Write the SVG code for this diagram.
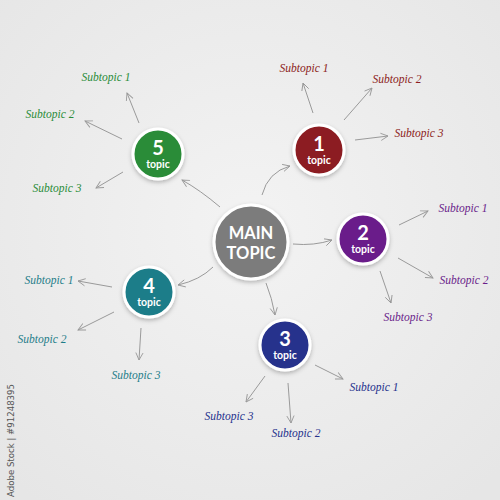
<svg xmlns="http://www.w3.org/2000/svg" width="500" height="500" viewBox="0 0 500 500">
<defs>
<radialGradient id="bg" cx="50%" cy="45%" r="70%">
<stop offset="0" stop-color="#f3f3f3"/>
<stop offset="1" stop-color="#e6e6e6"/>
</radialGradient>
<filter id="sh" x="-30%" y="-30%" width="160%" height="160%">
<feDropShadow dx="0" dy="2" stdDeviation="2" flood-color="#000" flood-opacity="0.25"/>
</filter>
<marker id="arr" viewBox="0 0 10 10" refX="9" refY="5" markerWidth="9" markerHeight="9" markerUnits="userSpaceOnUse" orient="auto">
<path d="M1,1 L9,5 L1,9" fill="none" stroke="#9a9a9a" stroke-width="1"/>
</marker>
<style>
.c{stroke:#fff;stroke-width:3;filter:url(#sh)}
.num{font-family:Lato,"Open Sans",sans-serif;font-weight:bold;font-size:20px;fill:#fff;text-anchor:middle}
.tp{font-family:Lato,"Open Sans",sans-serif;font-weight:bold;font-size:10.5px;fill:#fff;text-anchor:middle}
.mt{font-family:Lato,"Open Sans",sans-serif;font-weight:bold;font-size:16.5px;fill:#fff;text-anchor:middle}
.st{font-family:"Liberation Serif",serif;font-style:italic;font-size:11.5px;text-anchor:middle}
.ln{fill:none;stroke:#9a9a9a;stroke-width:1;marker-end:url(#arr)}
</style>
</defs>
<rect width="500" height="500" fill="url(#bg)"/>
<text x="14" y="497" transform="rotate(-90 14 497)" font-family="'DejaVu Sans',sans-serif" font-size="8.6" fill="#555">Adobe Stock | #91248395</text>
<g id="connectors">
<path class="ln" d="M262,195 Q268,172 290,166"/>
<path class="ln" d="M220,207 Q200,190 182,180"/>
<path class="ln" d="M293,244 Q314,246 332,240"/>
<path class="ln" d="M213,267 Q200,280 178,285"/>
<path class="ln" d="M266,283 Q272,298 275,315"/>
<path class="ln" d="M139,123 L127,93"/>
<path class="ln" d="M122,139 L85,121"/>
<path class="ln" d="M123,172 L96,188"/>
<path class="ln" d="M313,113 L303,83"/>
<path class="ln" d="M344,120 L372,88"/>
<path class="ln" d="M355,140 L388,136"/>
<path class="ln" d="M399,225 L428,211"/>
<path class="ln" d="M398,258 L433,278"/>
<path class="ln" d="M380,271 L391,303"/>
<path class="ln" d="M112,287 L78,281"/>
<path class="ln" d="M114,312 L78,330"/>
<path class="ln" d="M141,328 L139,360"/>
<path class="ln" d="M315,365 L343,379"/>
<path class="ln" d="M288,383 L291,423"/>
<path class="ln" d="M265,376 L246,402"/>
</g>
<g id="main">
<circle class="c" cx="251" cy="242" r="37" fill="#7b7b7b"/>
<text class="mt" x="251" y="239">MAIN</text>
<text class="mt" x="251" y="259">TOPIC</text>
</g>
<g id="node1">
<circle class="c" cx="319" cy="150" r="25" fill="#8c1d21"/>
<text class="num" x="319" y="151">1</text>
<text class="tp" x="319" y="164">topic</text>
<text class="st" x="304" y="72" fill="#8c1d21">Subtopic 1</text>
<text class="st" x="397" y="83" fill="#8c1d21">Subtopic 2</text>
<text class="st" x="419" y="137" fill="#8c1d21">Subtopic 3</text>
</g>
<g id="node2">
<circle class="c" cx="363" cy="239" r="25" fill="#6a1e8a"/>
<text class="num" x="363" y="240">2</text>
<text class="tp" x="363" y="253">topic</text>
<text class="st" x="463" y="212" fill="#6a1e8a">Subtopic 1</text>
<text class="st" x="464" y="284" fill="#6a1e8a">Subtopic 2</text>
<text class="st" x="408" y="321" fill="#6a1e8a">Subtopic 3</text>
</g>
<g id="node3">
<circle class="c" cx="285" cy="345" r="25" fill="#25318c"/>
<text class="num" x="285" y="346">3</text>
<text class="tp" x="285" y="359">topic</text>
<text class="st" x="374" y="391" fill="#25318c">Subtopic 1</text>
<text class="st" x="296" y="437" fill="#25318c">Subtopic 2</text>
<text class="st" x="229" y="420" fill="#25318c">Subtopic 3</text>
</g>
<g id="node4">
<circle class="c" cx="149" cy="292" r="25" fill="#1e7d89"/>
<text class="num" x="149" y="293">4</text>
<text class="tp" x="149" y="306">topic</text>
<text class="st" x="49" y="284" fill="#1e7d89">Subtopic 1</text>
<text class="st" x="42" y="343" fill="#1e7d89">Subtopic 2</text>
<text class="st" x="136" y="379" fill="#1e7d89">Subtopic 3</text>
</g>
<g id="node5">
<circle class="c" cx="158" cy="154" r="25" fill="#2a8c39"/>
<text class="num" x="158" y="155">5</text>
<text class="tp" x="158" y="168">topic</text>
<text class="st" x="106" y="81" fill="#2a8c39">Subtopic 1</text>
<text class="st" x="50" y="118" fill="#2a8c39">Subtopic 2</text>
<text class="st" x="57" y="192" fill="#2a8c39">Subtopic 3</text>
</g>
</svg>
